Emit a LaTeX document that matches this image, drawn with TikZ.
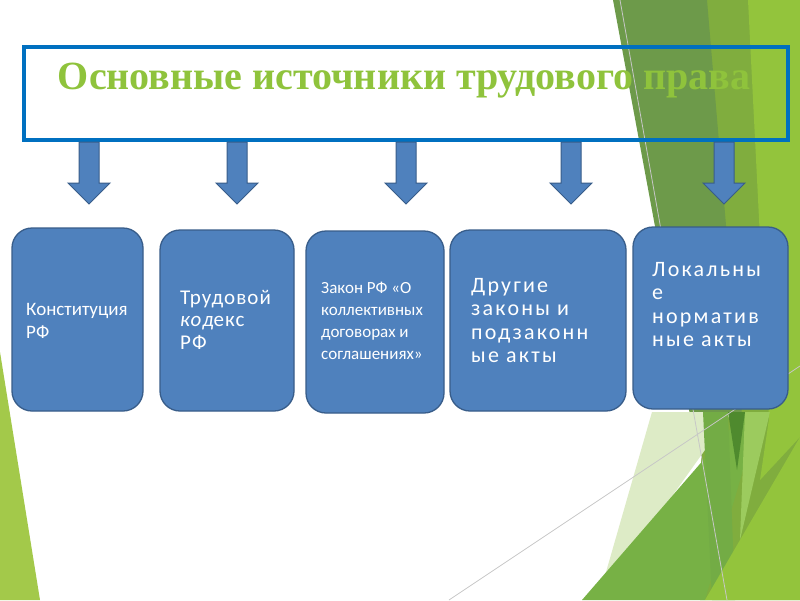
\documentclass[tikz,border=0pt]{standalone}
\usepackage{fontspec}
\setmainfont{Carlito}
\newfontfamily\ttlfont{Liberation Serif}
\newfontfamily\wideA[LetterSpace=5, ItalicFont={Carlito Italic}]{Carlito}
\newfontfamily\wideB[LetterSpace=10]{Carlito}
\definecolor{boxblue}{HTML}{4F81BD}
\definecolor{boxedge}{HTML}{385D8A}
\definecolor{ttlblue}{HTML}{0070C0}
\definecolor{ttlgreen}{HTML}{8FC33C}
\definecolor{limeL}{HTML}{A3C94A}
\definecolor{limeR}{HTML}{80AD3E}
\definecolor{limeR2}{HTML}{93C43C}
\definecolor{darkG}{HTML}{6D9A4A}
\definecolor{midG}{HTML}{77B145}
\definecolor{paleG}{HTML}{DDEBC6}
\definecolor{deepG}{HTML}{4F8A2E}
\definecolor{lightG}{HTML}{9CCB5E}
\definecolor{bandG}{HTML}{73AC45}
\begin{document}
\begin{tikzpicture}[x=1pt,y=-1pt,
  srcbox/.style={draw=boxedge, line width=1.3pt, fill=boxblue, rounded corners=20pt, inner sep=0pt},
  ttlbox/.style={draw=ttlblue, line width=4pt, inner sep=0pt},
  arrowst/.style={draw=boxedge, line width=1pt, fill=boxblue, line join=miter},
  txt/.style={text=white, inner sep=0pt, anchor=base west},
  guide/.style={draw=black!22, line width=0.8pt},
  pics/blkarrow/.style={code={
    \draw[arrowst] (-10,0) -- (10,0) -- (10,41) -- (21,41) -- (0,62) -- (-21,41) -- (-10,41) -- cycle;}}]
\useasboundingbox (0,0) rectangle (800,600);
\fill[white] (0,0) rectangle (800,600);
% background facets
\fill[limeL] (0,352) -- (40,600) -- (0,600) -- cycle;
\fill[limeR] (705,0) -- (800,0) -- (800,600) -- (700,600) -- cycle;
\fill[limeR2] (748,0) -- (800,0) -- (800,437) -- (770,437) -- cycle;
\fill[darkG] (613,0) -- (707,0) -- (742,415) -- (690,415) -- cycle;
\fill[paleG] (652,412) -- (732,412) -- (598,600) -- cycle;
\fill[midG] (582,600) -- (745,412) -- (760,412) -- (705,600) -- cycle;
\fill[bandG] (703,412) -- (728,412) -- (735,600) -- (712,600) -- cycle;
\fill[lightG] (745,412) -- (770,412) -- (740,540) -- cycle;
\fill[limeR2] (705,600) -- (800,437) -- (800,600) -- cycle;
\fill[limeR2] (770,412) -- (800,412) -- (800,437) -- (760,480) -- cycle;
\fill[deepG] (728,412) -- (745,412) -- (737,470) -- cycle;
\draw[guide] (620,0) -- (727,600);
\draw[guide] (449,600) -- (800,366);
% title
\node[ttlbox, minimum width=764pt, minimum height=93pt] (title) at (406,93) {};
\node[font=\ttlfont\bfseries\fontsize{40}{44}\selectfont, text=ttlgreen, anchor=base, inner sep=0pt] (ttl) at (404,89) {Основные источники трудового права};
% arrows
\coordinate (a1) at (89,142);
\coordinate (a2) at (237,142);
\coordinate (a3) at (406,142);
\coordinate (a4) at (571,142);
\coordinate (a5) at (724,142);
\foreach \a in {a1,a2,a3,a4,a5} \pic at (\a) {blkarrow};
% boxes
\node[srcbox, minimum width=131pt, minimum height=183pt] (b1) at (77.5,319.5) {};
\node[srcbox, minimum width=134pt, minimum height=181pt] (b2) at (227,320.5) {};
\node[srcbox, minimum width=138pt, minimum height=182pt] (b3) at (375,322) {};
\node[srcbox, minimum width=176pt, minimum height=181pt] (b4) at (538,320.5) {};
\node[srcbox, minimum width=155pt, minimum height=182pt] (b5) at (710.5,318) {};
% texts
\node[txt, font=\fontsize{19}{23}\selectfont] (t1) at (26,315) {\begin{tabular}[t]{@{}l@{}}Конституция\\РФ\end{tabular}};
\node[txt, font=\wideA\fontsize{21}{22.5}\selectfont] (t2) at (180,304) {\begin{tabular}[t]{@{}l@{}}Трудовой\\{\itshape код}екс\\РФ\end{tabular}};
\node[txt, font=\fontsize{17}{22}\selectfont] (t3) at (321,293) {\begin{tabular}[t]{@{}l@{}}Закон РФ «О\\коллективных\\договорах и\\соглашениях»\end{tabular}};
\node[txt, font=\wideB\fontsize{22}{23.5}\selectfont] (t4) at (471,292) {\begin{tabular}[t]{@{}l@{}}Другие\\законы и\\подзаконн\\ые акты\end{tabular}};
\node[txt, font=\wideB\fontsize{22}{23.5}\selectfont] (t5) at (652,276) {\begin{tabular}[t]{@{}l@{}}Локальны\\е\\норматив\\ные акты\end{tabular}};
\end{tikzpicture}
\end{document}
